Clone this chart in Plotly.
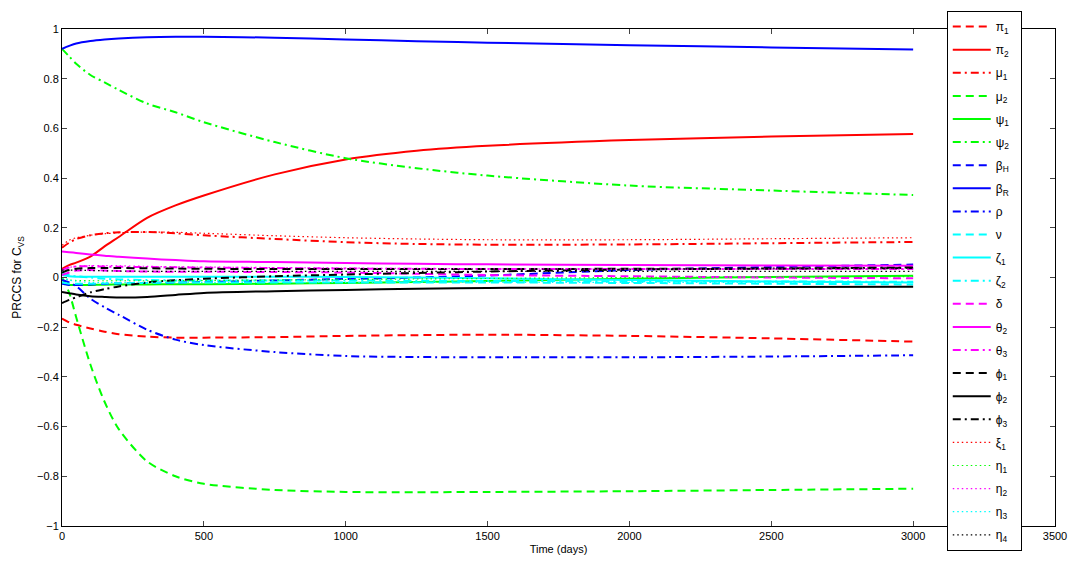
import plotly.graph_objects as go

# ---- data ----
time_days = [0, 25, 50, 100, 150, 200, 300, 400, 500, 750, 1000, 1250, 1500, 2000, 2500, 3000]

pi1 = [-0.165, -0.18, -0.19, -0.205, -0.218, -0.228, -0.238, -0.242, -0.242, -0.24, -0.235, -0.232, -0.23, -0.235, -0.245, -0.258]
pi2 = [0.035, 0.05, 0.06, 0.084, 0.125, 0.163, 0.24, 0.29, 0.33, 0.415, 0.475, 0.51, 0.53, 0.553, 0.567, 0.577]
mu1 = [0.12, 0.14, 0.155, 0.17, 0.178, 0.182, 0.183, 0.178, 0.17, 0.155, 0.142, 0.135, 0.132, 0.133, 0.138, 0.143]
mu2 = [0.0, -0.06, -0.16, -0.35, -0.50, -0.61, -0.74, -0.80, -0.83, -0.855, -0.863, -0.864, -0.863, -0.86, -0.855, -0.85]
psi1 = [-0.02, -0.03, -0.03, -0.03, -0.029, -0.028, -0.028, -0.027, -0.027, -0.025, -0.022, -0.018, -0.014, -0.005, 0.002, 0.007]
psi2 = [0.92, 0.89, 0.86, 0.815, 0.785, 0.755, 0.70, 0.665, 0.625, 0.545, 0.48, 0.44, 0.41, 0.37, 0.35, 0.332]
betaH = [-0.025, -0.03, -0.03, -0.028, -0.026, -0.024, -0.022, -0.02, -0.018, -0.012, -0.006, 0.0, 0.008, 0.03, 0.042, 0.052]
betaR = [0.92, 0.932, 0.942, 0.952, 0.958, 0.962, 0.967, 0.969, 0.969, 0.965, 0.958, 0.951, 0.945, 0.935, 0.926, 0.918]
rho = [-0.01, -0.02, -0.035, -0.085, -0.12, -0.15, -0.21, -0.25, -0.272, -0.30, -0.316, -0.32, -0.321, -0.321, -0.318, -0.313]
nu = [-0.02, -0.025, -0.025, -0.025, -0.024, -0.023, -0.022, -0.02, -0.02, -0.02, -0.02, -0.02, -0.02, -0.022, -0.025, -0.028]
zeta1 = [0.01, 0.005, 0.003, 0.003, 0.003, 0.003, 0.003, 0.003, 0.003, 0.003, 0.002, 0.0, -0.003, -0.01, -0.016, -0.02]
zeta2 = [0.02, 0.01, 0.005, 0.0, -0.005, -0.008, -0.01, -0.012, -0.012, -0.012, -0.012, -0.013, -0.014, -0.015, -0.016, -0.017]
delta = [0.01, 0.02, 0.028, 0.03, 0.028, 0.026, 0.024, 0.023, 0.023, 0.022, 0.02, 0.015, 0.01, 0.005, 0.0, -0.003]
theta2 = [0.105, 0.102, 0.099, 0.093, 0.088, 0.083, 0.076, 0.07, 0.065, 0.062, 0.058, 0.055, 0.053, 0.05, 0.048, 0.047]
theta3 = [0.03, 0.04, 0.045, 0.045, 0.044, 0.043, 0.042, 0.041, 0.04, 0.038, 0.036, 0.035, 0.034, 0.034, 0.034, 0.034]
phi1 = [0.02, 0.03, 0.035, 0.038, 0.038, 0.038, 0.037, 0.036, 0.035, 0.034, 0.034, 0.034, 0.034, 0.035, 0.036, 0.038]
phi2 = [-0.058, -0.063, -0.068, -0.075, -0.078, -0.08, -0.078, -0.07, -0.062, -0.055, -0.05, -0.045, -0.042, -0.04, -0.038, -0.037]
phi3 = [-0.103, -0.09, -0.08, -0.06, -0.047, -0.036, -0.02, -0.011, -0.005, 0.005, 0.012, 0.018, 0.024, 0.032, 0.036, 0.04]
xi1 = [0.13, 0.15, 0.16, 0.17, 0.176, 0.18, 0.183, 0.182, 0.178, 0.168, 0.16, 0.155, 0.152, 0.152, 0.156, 0.16]
eta1 = [0.0, -0.01, -0.012, -0.013, -0.013, -0.013, -0.013, -0.013, -0.012, -0.01, -0.008, -0.006, -0.004, 0.0, 0.002, 0.004]
eta2 = [0.03, 0.04, 0.045, 0.048, 0.048, 0.047, 0.045, 0.043, 0.042, 0.04, 0.038, 0.036, 0.035, 0.034, 0.034, 0.034]
eta3 = [0.0, -0.01, -0.015, -0.02, -0.02, -0.02, -0.02, -0.02, -0.02, -0.02, -0.02, -0.02, -0.02, -0.02, -0.02, -0.02]
eta4 = [0.03, 0.03, 0.03, 0.028, 0.027, 0.026, 0.025, 0.025, 0.025, 0.025, 0.025, 0.025, 0.025, 0.025, 0.025, 0.025]

x_ticks = [0, 500, 1000, 1500, 2000, 2500, 3000, 3500]
y_ticks = [-1, -0.8, -0.6, -0.4, -0.2, 0, 0.2, 0.4, 0.6, 0.8, 1]
y_tick_text = ["\u22121", "\u22120.8", "\u22120.6", "\u22120.4", "\u22120.2", "0", "0.2", "0.4", "0.6", "0.8", "1"]

RED, GREEN, BLUE, CYAN, MAG, BLACK = "#FF0000", "#00FF00", "#0000FF", "#00FFFF", "#FF00FF", "#000000"
DASH = "8px,5px"
DASHDOT = "8px,4px,2px,4px"
DOT = "1.5px,3px"

series = [
    ("\u03c0<sub>1</sub>", pi1, RED, DASH),
    ("\u03c0<sub>2</sub>", pi2, RED, "solid"),
    ("\u03bc<sub>1</sub>", mu1, RED, DASHDOT),
    ("\u03bc<sub>2</sub>", mu2, GREEN, DASH),
    ("\u03c8<sub>1</sub>", psi1, GREEN, "solid"),
    ("\u03c8<sub>2</sub>", psi2, GREEN, DASHDOT),
    ("\u03b2<sub>H</sub>", betaH, BLUE, DASH),
    ("\u03b2<sub>R</sub>", betaR, BLUE, "solid"),
    ("\u03c1", rho, BLUE, DASHDOT),
    ("\u03bd", nu, CYAN, DASH),
    ("\u03b6<sub>1</sub>", zeta1, CYAN, "solid"),
    ("\u03b6<sub>2</sub>", zeta2, CYAN, DASHDOT),
    ("\u03b4", delta, MAG, DASH),
    ("\u03b8<sub>2</sub>", theta2, MAG, "solid"),
    ("\u03b8<sub>3</sub>", theta3, MAG, DASHDOT),
    ("\u03d5<sub>1</sub>", phi1, BLACK, DASH),
    ("\u03d5<sub>2</sub>", phi2, BLACK, "solid"),
    ("\u03d5<sub>3</sub>", phi3, BLACK, DASHDOT),
    ("\u03be<sub>1</sub>", xi1, RED, DOT),
    ("\u03b7<sub>1</sub>", eta1, GREEN, DOT),
    ("\u03b7<sub>2</sub>", eta2, MAG, DOT),
    ("\u03b7<sub>3</sub>", eta3, CYAN, DOT),
    ("\u03b7<sub>4</sub>", eta4, BLACK, DOT),
]

fig = go.Figure()
for i, (name, vals, color, dash) in enumerate(series):
    width = 1.2 if dash == DOT else 2
    fig.add_trace(go.Scatter(
        x=time_days, y=vals, mode="lines", name=name + "\u00a0\u00a0",
        legendgroup=f"g{i}",
        line=dict(color=color, width=width, dash=dash, shape="spline", smoothing=0.8),
    ))

font_family = "Liberation Sans, Arial, sans-serif"
fig.update_layout(
    width=1076, height=563,
    margin=dict(l=62, r=21, t=29, b=37, autoexpand=False),
    paper_bgcolor="white", plot_bgcolor="white",
    font=dict(family=font_family, size=11, color="black"),
    showlegend=True,
    legend=dict(
        x=0.891, y=1.036, xanchor="left", yanchor="top",
        bgcolor="white", bordercolor="black", borderwidth=1,
        font=dict(family=font_family, size=12, color="black"),
        tracegroupgap=4.1, itemwidth=38, maxheight=560,
    ),
    xaxis=dict(
        range=[0, 3500], tickvals=x_ticks, ticks="inside", ticklen=5,
        showline=True, linecolor="black", linewidth=1, mirror="ticks",
        showgrid=False, zeroline=False,
        title=dict(text="Time (days)", standoff=4, font=dict(size=11)),
        tickfont=dict(size=11),
    ),
    yaxis=dict(
        range=[-1, 1], tickvals=y_ticks, ticktext=y_tick_text, ticks="inside", ticklen=5,
        showline=True, linecolor="black", linewidth=1, mirror="ticks",
        showgrid=False, zeroline=False,
        title=dict(text="PRCCS for C<sub>VS</sub>", standoff=12, font=dict(size=12)),
        tickfont=dict(size=11),
    ),
)

fig.write_html("out.html")
